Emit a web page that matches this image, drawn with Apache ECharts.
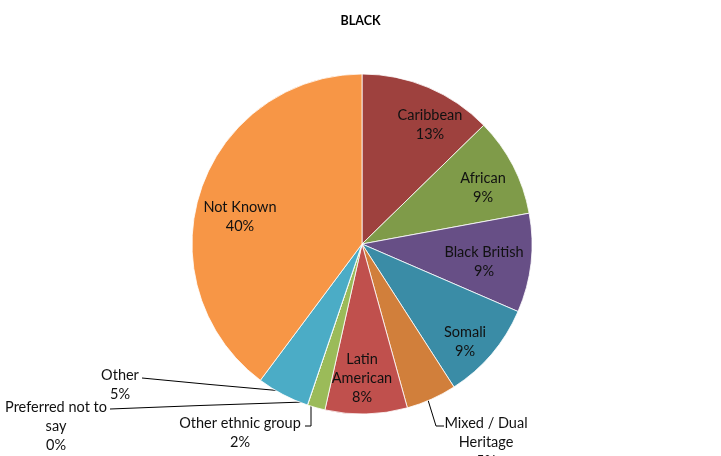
<!DOCTYPE html>
<html><head><meta charset="utf-8">
<script src="https://cdn.jsdelivr.net/npm/echarts@6/dist/echarts.min.js"></script>
<style>html,body{margin:0;padding:0;background:#fff}#c{width:721px;height:456px}</style>
</head><body><div id="c"></div>
<script>
const categories = ['Caribbean','African','Black British','Somali','Mixed / Dual\nHeritage','Latin\nAmerican','Other ethnic group','Preferred not to\nsay','Other','Not Known'];
const values = [12.7, 9.4, 9.4, 9.4, 4.8, 7.8, 1.7, 0, 5.0, 39.8];
const colors = ['#9E413E','#7F9B49','#674F86','#3A8CA6','#D17F3B','#C0504D','#9BBB59','#8064A2','#4BACC6','#F79646'];
// label block centres and leader lines (layout only)
const labelPos = [
  {x:430, y:125},
  {x:483, y:188},
  {x:484, y:262},
  {x:465, y:342},
  {x:486, y:442, line:[[428,400],[436,426],[444,426]]},
  {x:362, y:378},
  {x:240, y:433, line:[[311,406],[311,426],[305,426]]},
  {x:56,  y:426, line:[[304,402],[200,405.5],[110,409]]},
  {x:120, y:385, line:[[283,391],[210,384.5],[142,378]]},
  {x:240, y:217}
];
const total = values.reduce((a,b)=>a+b,0);
const chart = echarts.init(document.getElementById('c'));
chart.setOption({
  animation: false,
  title: {text:'BLACK', left:'center', top:9, textStyle:{fontFamily:'Lato', fontSize:12.5, fontWeight:'bold', color:'#000'}},
  series: [{
    type:'pie',
    center:[362,244],
    radius:170,
    startAngle:90,
    clockwise:true,
    avoidLabelOverlap:false,
    itemStyle:{borderColor:'#fff', borderWidth:0.8},
    label:{show:true, position:'outside', fontFamily:'Lato', fontSize:14.5, lineHeight:19, color:'#111', align:'center',
      formatter: p => p.name + '\n' + Math.round(p.value/total*100) + '%'},
    labelLine:{show:true, lineStyle:{color:'#000', width:1}},
    labelLayout: function (p) {
      const L = labelPos[p.dataIndex];
      const o = {x:L.x, y:L.y, align:'center', verticalAlign:'middle'};
      if (L.line) o.labelLinePoints = L.line;
      return o;
    },
    data: categories.map((c,i)=>({
      name:c, value:values[i],
      itemStyle:{color:colors[i]},
      labelLine:{show: !!labelPos[i].line}
    }))
  }]
});
</script>
</body></html>
